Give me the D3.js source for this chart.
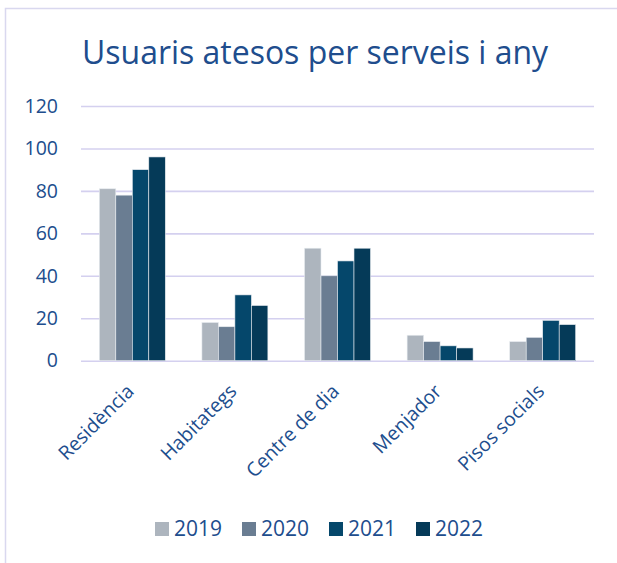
<!DOCTYPE html>
<html>
<head>
<meta charset="utf-8">
<script src="https://cdn.jsdelivr.net/npm/d3@7"></script>
<style>
  body { margin: 0; background: #fff; }
  svg { display: block; font-family: "Open Sans", sans-serif; }
</style>
</head>
<body>
<div id="container"></div>
<script>
'use strict'

// data
const categories = ['Residència', 'Habitategs', 'Centre de dia', 'Menjador', 'Pisos socials'];
const years = ['2019', '2020', '2021', '2022'];
const values2019 = [81, 18, 53, 12, 9];
const values2020 = [78, 16, 40, 9, 11];
const values2021 = [90, 31, 47, 7, 19];
const values2022 = [96, 26, 53, 6, 17];
const yTicks = [0, 20, 40, 60, 80, 100, 120];
const title = 'Usuaris atesos per serveis i any';

const series = [values2019, values2020, values2021, values2022];
const colors = ['#adb5be', '#6a7d92', '#05476b', '#053a58'];
const textColor = '#204d8d';
const font = '"Open Sans", sans-serif';

const w = 617;
const h = 563;
const plotLeft = 81, plotRight = 594, plotTop = 106, plotBottom = 360.7;

const svg = d3.select('#container')
  .append('svg')
  .attr('width', w)
  .attr('height', h);

// chart frame (runs off the right and bottom edges)
svg.append('rect')
  .attr('x', 5.5).attr('y', 8.5)
  .attr('width', 700).attr('height', 700)
  .attr('fill', 'none')
  .attr('stroke', '#d9d8ef')
  .attr('stroke-width', 1.5);

// scales
const y = d3.scaleLinear().domain([0, 120]).range([plotBottom, plotTop]);
const x = d3.scaleBand().domain(categories).range([plotLeft, plotRight])
  .paddingInner(0.357).paddingOuter(0.1785);
const xInner = d3.scaleBand().domain(years).range([0, x.bandwidth()]);

// y axis + gridlines
const yAxis = svg.append('g')
  .attr('transform', 'translate(' + plotLeft + ',0)')
  .call(d3.axisLeft(y).tickValues(yTicks).tickSize(-(plotRight - plotLeft)).tickPadding(23));
yAxis.attr('font-family', font);
yAxis.select('.domain').remove();
yAxis.selectAll('line').attr('stroke', '#d4d0ef').attr('stroke-width', 1.6);
yAxis.selectAll('text')
  .attr('fill', textColor)
  .style('font-size', '19.5px');

// bars
const groups = svg.append('g').selectAll('g')
  .data(categories)
  .enter()
  .append('g')
  .attr('transform', d => 'translate(' + x(d) + ',0)');

groups.selectAll('rect')
  .data((c, i) => years.map((yr, k) => ({ year: yr, value: series[k][i], k: k })))
  .enter()
  .append('rect')
  .attr('x', d => xInner(d.year))
  .attr('y', d => y(d.value))
  .attr('width', xInner.bandwidth())
  .attr('height', d => plotBottom - y(d.value))
  .attr('fill', d => colors[d.k])
  .attr('stroke', '#e8ecf0')
  .attr('stroke-width', 0.6);

// x axis labels (rotated)
const xAxis = svg.append('g')
  .attr('transform', 'translate(0,' + plotBottom + ')')
  .call(d3.axisBottom(x).tickSize(0).tickPadding(0));
xAxis.attr('font-family', font);
xAxis.select('.domain').remove();
xAxis.selectAll('text')
  .attr('fill', textColor)
  .style('font-size', '19.5px')
  .style('text-anchor', 'end')
  .attr('dy', '0.35em')
  .attr('transform', 'translate(-2,27) rotate(-45)');

// title
svg.append('text')
  .attr('x', 315).attr('y', 63.5)
  .attr('text-anchor', 'middle')
  .attr('fill', textColor)
  .attr('textLength', 466)
  .attr('lengthAdjust', 'spacingAndGlyphs')
  .style('font-size', '32px')
  .text(title);

// legend
const legendX = d3.scalePoint().domain(years).range([155, 416]);
const legend = svg.append('g').selectAll('g')
  .data(years)
  .enter()
  .append('g')
  .attr('transform', d => 'translate(' + legendX(d) + ',522)');
legend.append('rect')
  .attr('width', 14).attr('height', 14)
  .attr('fill', (d, i) => colors[i]);
legend.append('text')
  .attr('x', 19).attr('y', 14)
  .attr('fill', textColor)
  .style('font-size', '21px')
  .text(d => d);
</script>
</body>
</html>
